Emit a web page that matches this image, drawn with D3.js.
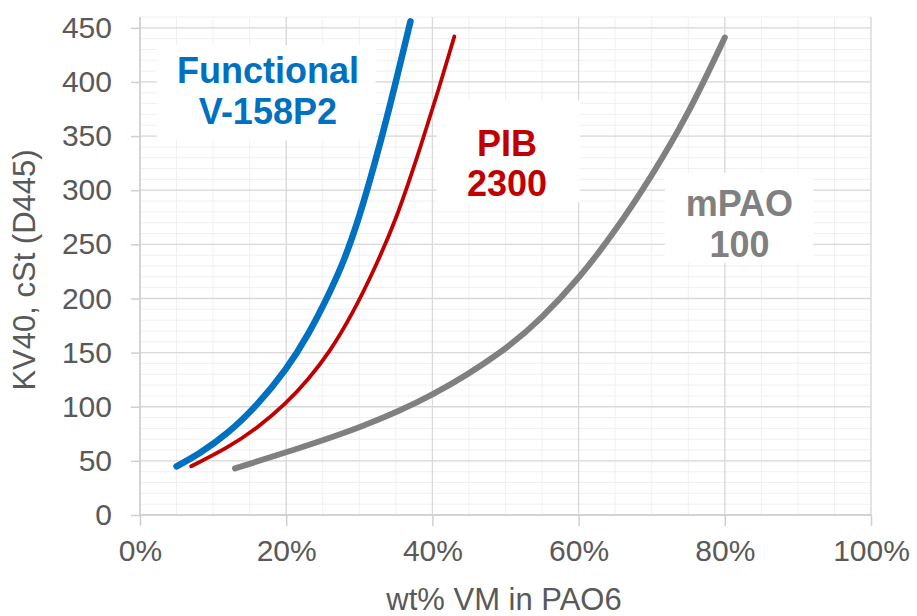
<!DOCTYPE html>
<html>
<head>
<meta charset="utf-8">
<script src="https://d3js.org/d3.v7.min.js"></script>
<style>
  body { margin: 0; background: #fff; }
  svg { display: block; font-family: "Liberation Sans", Arial, sans-serif; }
</style>
</head>
<body>
<script>
// values: [wt% VM, KV40 cSt]
var functionalV158P2 = [[5, 45], [8, 56], [12, 75], [16, 101], [20, 134], [23, 166], [26, 206],
                        [28, 236], [30, 275], [32, 322], [34, 372], [37, 456]];
var pib2300 = [[7, 45], [12, 62], [16, 80], [20, 103], [23, 125], [26, 151], [29, 185],
               [32, 226], [35, 272], [38, 332], [41, 396], [43, 442]];
var mpao100 = [[13, 43], [21, 60], [30, 80], [40, 109], [50, 152], [55, 182], [60, 218],
               [65, 262], [70, 313], [75, 370], [80, 441]];

var xTicks = [0, 20, 40, 60, 80, 100];
var yTicks = [0, 50, 100, 150, 200, 250, 300, 350, 400, 450];
var xTitle = "wt% VM in PAO6";
var yTitle = "KV40, cSt (D445)";

var seriesLabels = [
  { lines: ["Functional", "V-158P2"], color: "#0070C0" },
  { lines: ["PIB", "2300"], color: "#C00000" },
  { lines: ["mPAO", "100"], color: "#808080" }
];

var width = 917, height = 616;
// note: "top" is taken by window.top, so use plot* names
var plotLeft = 140, plotRight = 871, plotTop = 17, plotBottom = 515;

var x = d3.scaleLinear().domain([0, 100]).range([plotLeft, plotRight]);
var y = d3.scaleLinear().domain([0, 460]).range([plotBottom, plotTop]);

var svg = d3.select("body").append("svg")
    .attr("width", width)
    .attr("height", height);

// minor grid
svg.append("g").selectAll("line")
    .data(d3.range(0, 101, 5))
    .enter().append("line")
    .attr("x1", function(d) { return x(d); })
    .attr("x2", function(d) { return x(d); })
    .attr("y1", plotTop).attr("y2", plotBottom)
    .attr("stroke", "#f0f0f0").attr("stroke-width", 1);
svg.append("g").selectAll("line")
    .data(d3.range(0, 461, 10))
    .enter().append("line")
    .attr("y1", function(d) { return y(d); })
    .attr("y2", function(d) { return y(d); })
    .attr("x1", plotLeft).attr("x2", plotRight)
    .attr("stroke", "#f0f0f0").attr("stroke-width", 1);

// major grid
svg.append("g").selectAll("line")
    .data(xTicks)
    .enter().append("line")
    .attr("x1", function(d) { return x(d); })
    .attr("x2", function(d) { return x(d); })
    .attr("y1", plotTop).attr("y2", plotBottom)
    .attr("stroke", "#d9d9d9").attr("stroke-width", 1.3);
svg.append("g").selectAll("line")
    .data(yTicks)
    .enter().append("line")
    .attr("y1", function(d) { return y(d); })
    .attr("y2", function(d) { return y(d); })
    .attr("x1", plotLeft).attr("x2", plotRight)
    .attr("stroke", "#d9d9d9").attr("stroke-width", 1.3);

// axes
var xAxis = svg.append("g")
    .attr("transform", "translate(0," + plotBottom + ")")
    .call(d3.axisBottom(x).tickValues(xTicks).tickSize(11).tickPadding(14)
      .tickFormat(function(d) { return d + "%"; }));
var yAxis = svg.append("g")
    .attr("transform", "translate(" + plotLeft + ",0)")
    .call(d3.axisLeft(y).tickValues(yTicks).tickSize(9).tickPadding(19));

[xAxis, yAxis].forEach(function(a) {
  a.select(".domain").attr("stroke", "#cfcfcf").attr("stroke-width", 1.5);
  a.selectAll(".tick line").attr("stroke", "#cfcfcf").attr("stroke-width", 1.5);
  a.selectAll(".tick text").attr("fill", "#595959").style("font-size", "30px");
});
xAxis.select(".domain").attr("d", "M" + plotLeft + ",0H" + plotRight);
yAxis.select(".domain").attr("d", "M0," + plotBottom + "V" + plotTop);

// axis titles
svg.append("text")
    .attr("x", 504).attr("y", 610)
    .attr("text-anchor", "middle")
    .attr("fill", "#595959")
    .style("font-size", "31px")
    .text(xTitle);
svg.append("text")
    .attr("transform", "translate(35,270) rotate(-90)")
    .attr("text-anchor", "middle")
    .attr("fill", "#595959")
    .style("font-size", "31px")
    .text(yTitle);

// series labels on white boxes (anchors in data units)
var labelPlace = [
  { cx: 17.5, cy: 399, box: [2.3, 434, 32.2, 346] },
  { cx: 50.2, cy: 332, box: [40.6, 383, 60.2, 289] },
  { cx: 82.0, cy: 276, box: [71.8, 316, 92.1, 233] }
];

seriesLabels.forEach(function(lab, i) {
  var p = labelPlace[i];
  svg.append("rect")
      .attr("x", x(p.box[0])).attr("y", y(p.box[1]))
      .attr("width", x(p.box[2]) - x(p.box[0]))
      .attr("height", y(p.box[3]) - y(p.box[1]))
      .attr("fill", "#fff");
  var t = svg.append("text")
      .attr("text-anchor", "middle")
      .attr("fill", lab.color)
      .style("font-size", "36px")
      .style("font-weight", "bold");
  lab.lines.forEach(function(s, j) {
    t.append("tspan")
        .attr("x", x(p.cx))
        .attr("y", y(p.cy) + j * 40.5)
        .text(s);
  });
});

// curves
var line = d3.line()
    .x(function(d) { return x(d[0]); })
    .y(function(d) { return y(d[1]); })
    .curve(d3.curveBasis);

var series = [
  { data: mpao100, color: "#808080", w: 6 },
  { data: pib2300, color: "#C00000", w: 3.8 },
  { data: functionalV158P2, color: "#0070C0", w: 6.5 }
];

svg.append("g").selectAll("path")
    .data(series)
    .enter().append("path")
    .attr("d", function(d) { return line(d.data); })
    .attr("fill", "none")
    .attr("stroke", function(d) { return d.color; })
    .attr("stroke-width", function(d) { return d.w; })
    .attr("stroke-linecap", "round");
</script>
</body>
</html>
